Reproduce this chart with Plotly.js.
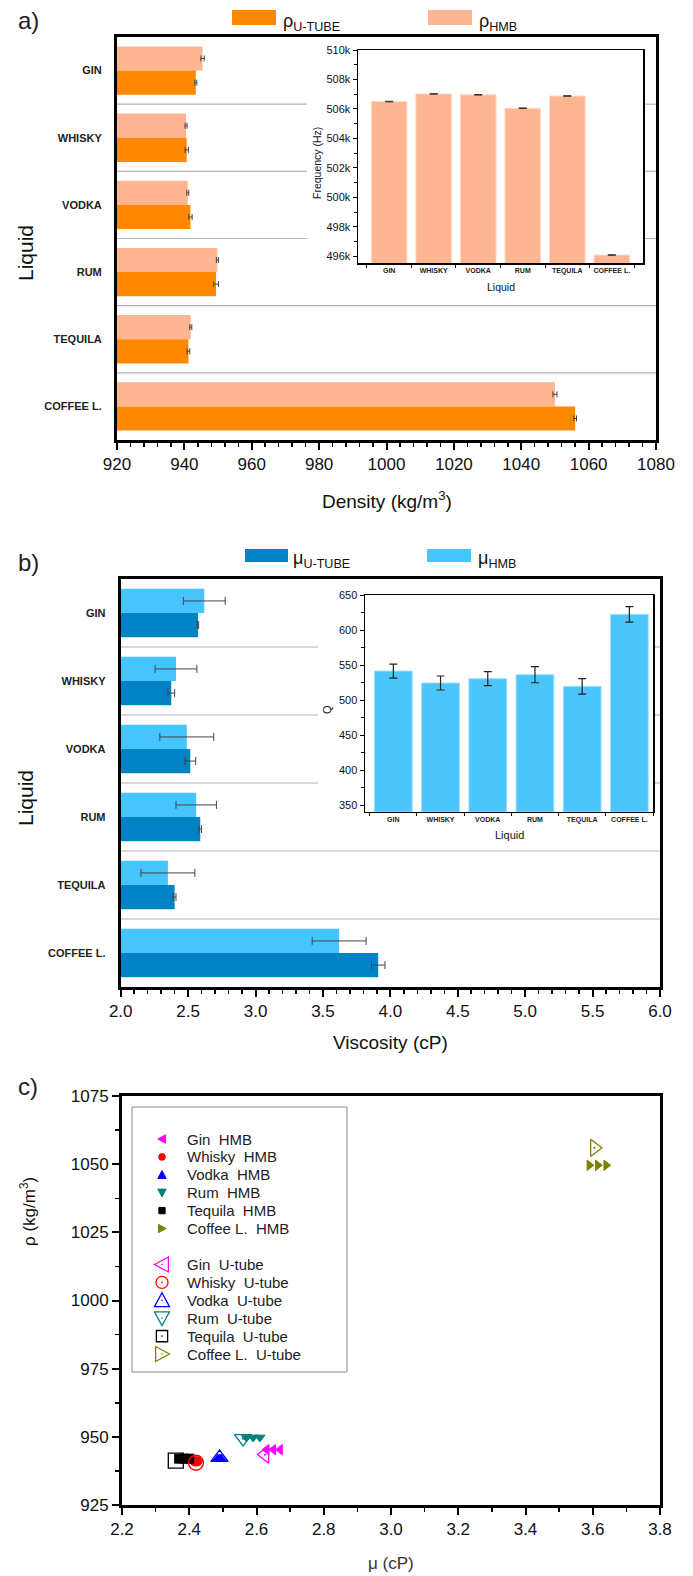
<!DOCTYPE html>
<html>
<head>
<meta charset="utf-8">
<script src="https://cdn.plot.ly/plotly-3.0.1.min.js"></script>
<style>html,body{margin:0;padding:0;background:#fff;}#chart{width:693px;height:1576px;}</style>
</head>
<body>
<div id="chart"></div>
<script>
// ---------- DATA ----------
const categories = ['GIN', 'WHISKY', 'VODKA', 'RUM', 'TEQUILA', 'COFFEE L.'];

// a) density (kg/m3)
const densityHMB = [945.4, 940.5, 941.0, 949.8, 941.9, 1050.0];
const densityHMBErr = [0.5, 0.3, 0.3, 0.3, 0.3, 0.6];
const densityUTube = [943.4, 940.7, 941.8, 949.4, 941.2, 1056.0];
const densityUTubeErr = [0.3, 0.5, 0.5, 0.7, 0.4, 0.4];

// a) inset: resonance frequency (Hz)
const frequencyHz = [506500, 507020, 506960, 506050, 506880, 496090];
const frequencyErr = [20, 20, 20, 20, 20, 20];

// b) viscosity (cP)
const viscosityHMB = [2.62, 2.41, 2.49, 2.56, 2.35, 3.62];
const viscosityHMBErr = [0.155, 0.155, 0.2, 0.15, 0.2, 0.2];
const viscosityUTube = [2.573, 2.375, 2.516, 2.59, 2.40, 3.91];
const viscosityUTubeErr = [0.005, 0.025, 0.04, 0.01, 0.01, 0.05];

// b) inset: quality factor
const qFactor = [541.4, 524.3, 530.5, 536.2, 519.5, 622.4];
const qFactorErr = [10, 10, 10, 11.5, 11, 11];

// c) density vs viscosity
const liquidNames = ['Gin', 'Whisky', 'Vodka', 'Rum', 'Tequila', 'Coffee L.'];
const muHMB = [[2.63, 2.65, 2.67], [2.415, 2.42, 2.425], [2.485, 2.49, 2.495], [2.57, 2.59, 2.61], [2.37, 2.385, 2.40], [3.59, 3.615, 3.64]];
const rhoHMB = [945.3, 941.0, 942.0, 949.8, 942.0, 1049.6];
const muUTube = [2.625, 2.42, 2.49, 2.56, 2.36, 3.605];
const rhoUTube = [943.5, 940.5, 942.4, 949.4, 941.3, 1056.0];

// ---------- STYLE ----------
const W = 693, H = 1576;
const FONT = 'Liberation Sans, Arial, sans-serif';
const X = px => px / W;
const Y = py => 1 - py / H;

const cOrange = '#FF8800', cSalmon = '#FDB592';
const cBlueDark = '#0083C5', cBlueLight = '#45C4FE', cBlueInset = '#4CC5FB';
const scatterColors = ['#FF00FF', '#FF0000', '#0000FF', '#008080', '#000000', '#808000'];
const symbols = ['triangle-left', 'circle', 'triangle-up', 'triangle-down', 'square', 'triangle-right'];
const errCol = '#444';

const traces = [];
// panel a main
traces.push({type: 'bar', orientation: 'h', y: categories, x: densityHMB, xaxis: 'x', yaxis: 'y',
  offset: -0.36, width: 0.36, marker: {color: cSalmon}, showlegend: false,
  error_x: {type: 'data', array: densityHMBErr, color: errCol, thickness: 1, width: 3}});
traces.push({type: 'bar', orientation: 'h', y: categories, x: densityUTube, xaxis: 'x', yaxis: 'y',
  offset: 0, width: 0.36, marker: {color: cOrange}, showlegend: false,
  error_x: {type: 'data', array: densityUTubeErr, color: errCol, thickness: 1, width: 3}});
// panel a inset
traces.push({type: 'bar', x: categories, y: frequencyHz, xaxis: 'x2', yaxis: 'y2', width: 0.8,
  marker: {color: cSalmon, line: {color: '#FFD9C6', width: 1}}, showlegend: false,
  error_y: {type: 'data', array: frequencyErr, color: '#333', thickness: 1, width: 4}});
// panel b main
traces.push({type: 'bar', orientation: 'h', y: categories, x: viscosityHMB, xaxis: 'x3', yaxis: 'y3',
  offset: -0.355, width: 0.355, marker: {color: cBlueLight}, showlegend: false,
  error_x: {type: 'data', array: viscosityHMBErr, color: errCol, thickness: 1, width: 4}});
traces.push({type: 'bar', orientation: 'h', y: categories, x: viscosityUTube, xaxis: 'x3', yaxis: 'y3',
  offset: 0, width: 0.355, marker: {color: cBlueDark}, showlegend: false,
  error_x: {type: 'data', array: viscosityUTubeErr, color: errCol, thickness: 1, width: 4}});
// panel b inset
traces.push({type: 'bar', x: categories, y: qFactor, xaxis: 'x4', yaxis: 'y4', width: 0.8,
  marker: {color: cBlueInset, line: {color: '#9BDFFD', width: 1}}, showlegend: false,
  error_y: {type: 'data', array: qFactorErr, color: '#222', thickness: 1.2, width: 4}});
// panel c scatter
liquidNames.forEach((n, i) => {
  traces.push({type: 'scatter', mode: 'markers', x: muHMB[i], y: muHMB[i].map(() => rhoHMB[i]),
    xaxis: 'x5', yaxis: 'y5', name: n + ' HMB', showlegend: false,
    marker: {symbol: symbols[i], size: 9, color: scatterColors[i], line: {color: scatterColors[i], width: 1}}});
});
liquidNames.forEach((n, i) => {
  traces.push({type: 'scatter', mode: 'markers', x: [muUTube[i]], y: [rhoUTube[i]],
    xaxis: 'x5', yaxis: 'y5', name: n + ' U-tube', showlegend: false,
    marker: {symbol: symbols[i] + '-open-dot', size: 15, color: scatterColors[i], line: {color: scatterColors[i], width: 1.3}}});
});

// ---------- AXES ----------
function mainX(dom, range, dtick, minorDtick, fmt) {
  return {domain: dom, range: range, tick0: range[0], dtick: dtick, tickformat: fmt,
    ticks: 'outside', ticklen: 7, tickwidth: 2, tickcolor: '#000',
    minor: {dtick: minorDtick, ticks: 'outside', ticklen: 4, tickwidth: 1.5, tickcolor: '#000'},
    showline: true, linewidth: 3, linecolor: '#000', mirror: true, showgrid: false, zeroline: false,
    tickfont: {family: FONT, size: 17, color: '#111'}, fixedrange: true};
}
function mainYcat(dom, anchor) {
  return {domain: dom, anchor: anchor, type: 'category', range: [5.5, -0.5], ticks: '',
    showline: true, linewidth: 3, linecolor: '#000', mirror: true, showgrid: false, zeroline: false,
    ticklabelstandoff: 10, tickfont: {family: FONT, size: 11, color: '#222', weight: 'bold'}, fixedrange: true};
}
function insetX(dom, anchor, range) {
  return {domain: dom, anchor: anchor, type: 'category', range: range, tickson: 'boundaries', tickangle: 0,
    ticks: 'outside', ticklen: 3, tickwidth: 1, tickcolor: '#000', showline: true, linewidth: 1.5,
    linecolor: '#000', mirror: true, showgrid: false, zeroline: false,
    tickfont: {family: FONT, size: 7, color: '#222', weight: 'bold'}, fixedrange: true};
}
function insetY(dom, anchor, range, tick0, dtick, minorDtick, fmt) {
  return {domain: dom, anchor: anchor, range: range, tick0: tick0, dtick: dtick, tickformat: fmt,
    ticks: 'outside', ticklen: 4, tickwidth: 1, tickcolor: '#000',
    minor: {dtick: minorDtick, ticks: 'outside', ticklen: 2.5, tickwidth: 1, tickcolor: '#000'},
    showline: true, linewidth: 1.5, linecolor: '#000', mirror: true, showgrid: false, zeroline: false,
    tickfont: {family: FONT, size: 11, color: '#111'}, fixedrange: true};
}

const aL = 117, aR = 656, aT = 37, aB = 440;
const iaL = 358, iaR = 643, iaT = 50, iaB = 263;
const bL = 120.7, bR = 660, bT = 579, bB = 987;
const ibL = 365, ibR = 653, ibT = 595, ibB = 811.7;
const cL = 122, cR = 660, cT = 1096, cB = 1505;

const layout = {
  width: W, height: H, margin: {l: 0, r: 0, t: 0, b: 0},
  paper_bgcolor: '#fff', plot_bgcolor: '#fff', barmode: 'overlay', hovermode: false,
  font: {family: FONT, color: '#111'}, showlegend: false,
  xaxis: Object.assign(mainX([X(aL), X(aR)], [920, 1080], 20, 4, 'd'), {anchor: 'y'}),
  yaxis: mainYcat([Y(aB), Y(aT)], 'x'),
  xaxis2: insetX([X(iaL), X(iaR)], 'y2', [-0.7, 5.7]),
  yaxis2: insetY([Y(iaB), Y(iaT)], 'x2', [495550, 510000], 496000, 2000, 1000, '~s'),
  xaxis3: Object.assign(mainX([X(bL), X(bR)], [2, 6], 0.5, 0.1, '.1f'), {anchor: 'y3'}),
  yaxis3: mainYcat([Y(bB), Y(bT)], 'x3'),
  xaxis4: insetX([X(ibL), X(ibR)], 'y4', [-0.6, 5.5]),
  yaxis4: insetY([Y(ibB), Y(ibT)], 'x4', [340.5, 650], 350, 50, 25, 'd'),
  xaxis5: Object.assign(mainX([X(cL), X(cR)], [2.2, 3.8], 0.2, 0.1, '.1f'), {anchor: 'y5'}),
  yaxis5: Object.assign(mainX([Y(cB), Y(cT)], [925, 1075], 25, 12.5, 'd'), {anchor: 'x5'}),
  shapes: [],
  annotations: []
};

// separators between categories (hidden behind the inset region for the top three)
function separators(xd, yr, gapStart, gapEnd) {
  for (let i = 1; i < categories.length; i++) {
    const seg = i <= 3 ? [[0, gapStart], [gapEnd, 1]] : [[0, 1]];
    seg.forEach(s => layout.shapes.push({type: 'line', xref: xd, yref: yr, x0: s[0], x1: s[1],
      y0: i - 0.5, y1: i - 0.5, layer: 'below', line: {color: '#AEB6B6', width: 1.2}}));
  }
}
separators('x domain', 'y', (307 - aL) / (aR - aL), (iaR - aL) / (aR - aL));
separators('x3 domain', 'y3', (318 - bL) / (bR - bL), (ibR - bL) / (bR - bL));

function swatch(x0, x1, y0, y1, color) {
  layout.shapes.push({type: 'rect', xref: 'paper', yref: 'paper', x0: X(x0), x1: X(x1), y0: Y(y1), y1: Y(y0),
    fillcolor: color, line: {width: 0}});
}
function ann(text, x, y, size, opts) {
  layout.annotations.push(Object.assign({text: text, xref: 'paper', yref: 'paper', x: X(x), y: Y(y),
    showarrow: false, font: {family: FONT, size: size, color: '#111'}, xanchor: 'center', yanchor: 'middle'}, opts || {}));
}
// legends of panels a, b
swatch(232, 276, 10, 25, cOrange);
swatch(428, 472, 10, 25, cSalmon);
ann('ρ<sub>U-TUBE</sub>', 281, 22, 18, {xanchor: 'left'});
ann('ρ<sub>HMB</sub>', 477, 22, 18, {xanchor: 'left'});
swatch(245, 288, 549, 562, cBlueDark);
swatch(427, 471, 549, 562, cBlueLight);
ann('μ<sub>U-TUBE</sub>', 291, 560, 18, {xanchor: 'left'});
ann('μ<sub>HMB</sub>', 476, 560, 18, {xanchor: 'left'});

// panel labels
ann('a)', 28, 21, 24, {font: {family: FONT, size: 24, color: '#222'}});
ann('b)', 28, 562, 24, {font: {family: FONT, size: 24, color: '#222'}});
ann('c)', 28, 1086, 24, {font: {family: FONT, size: 24, color: '#222'}});

// axis titles
ann('Density (kg/m<sup>3</sup>)', 387, 500, 19);
ann('Liquid', 25, 253, 21, {textangle: -90});
ann('Frequency (Hz)', 317, 163, 10.5, {textangle: -90});
ann('Liquid', (iaL + iaR) / 2, 287, 10.5);
ann('Viscosity (cP)', 390, 1042, 19);
ann('Liquid', 25, 798, 21, {textangle: -90});
ann('Q', 327, 710, 11, {textangle: -90});
ann('Liquid', (ibL + ibR) / 2, 835, 11);
ann('ρ (kg/m<sup>3</sup>)', 28, 1212, 17, {textangle: -90});
ann('μ (cP)', 391, 1563, 17, {font: {family: FONT, size: 17, color: '#333'}});

// panel c legend: frame, key symbols (shapes), labels
layout.shapes.push({type: 'rect', xref: 'paper', yref: 'paper', x0: X(132), x1: X(347), y0: Y(1372), y1: Y(1107),
  line: {color: '#888', width: 1}, fillcolor: 'rgba(0,0,0,0)'});
function pathOf(pts) {
  return 'M' + pts.map(p => X(p[0]).toFixed(5) + ',' + Y(p[1]).toFixed(5)).join(' L') + ' Z';
}
function keyShape(kind, cx, cy, r, color, filled) {
  const base = {xref: 'paper', yref: 'paper', line: {color: color, width: filled ? 1 : 1.3},
    fillcolor: filled ? color : 'rgba(0,0,0,0)'};
  let pts = null;
  if (kind === 'triangle-left') pts = [[cx - r, cy], [cx + r * 0.85, cy - r], [cx + r * 0.85, cy + r]];
  if (kind === 'triangle-right') pts = [[cx + r, cy], [cx - r * 0.85, cy - r], [cx - r * 0.85, cy + r]];
  if (kind === 'triangle-up') pts = [[cx, cy - r], [cx - r, cy + r * 0.85], [cx + r, cy + r * 0.85]];
  if (kind === 'triangle-down') pts = [[cx, cy + r], [cx - r, cy - r * 0.85], [cx + r, cy - r * 0.85]];
  if (pts) layout.shapes.push(Object.assign({type: 'path', path: pathOf(pts)}, base));
  else if (kind === 'circle') layout.shapes.push(Object.assign({type: 'circle', x0: X(cx - r * 0.8), x1: X(cx + r * 0.8), y0: Y(cy + r * 0.8), y1: Y(cy - r * 0.8)}, base));
  else layout.shapes.push(Object.assign({type: 'rect', x0: X(cx - r * 0.75), x1: X(cx + r * 0.75), y0: Y(cy + r * 0.75), y1: Y(cy - r * 0.75)}, base));
  if (!filled) layout.shapes.push({type: 'circle', xref: 'paper', yref: 'paper', x0: X(cx - 0.8), x1: X(cx + 0.8),
    y0: Y(cy + 0.8), y1: Y(cy - 0.8), fillcolor: color, line: {width: 0}});
}
liquidNames.forEach((n, i) => {
  const yH = 1139 + 17.9 * i, yU = 1264.5 + 17.9 * i;
  keyShape(symbols[i], 162, yH, 4.2, scatterColors[i], true);
  keyShape(symbols[i], 162, yU, 7.5, scatterColors[i], false);
  ann(n + '\u00a0 HMB', 185, yH, 15, {xanchor: 'left', font: {family: FONT, size: 15, color: '#222'}});
  ann(n + '\u00a0 U-tube', 185, yU, 15, {xanchor: 'left', font: {family: FONT, size: 15, color: '#222'}});
});

Plotly.newPlot('chart', traces, layout, {staticPlot: true, displayModeBar: false});
</script>
</body>
</html>
